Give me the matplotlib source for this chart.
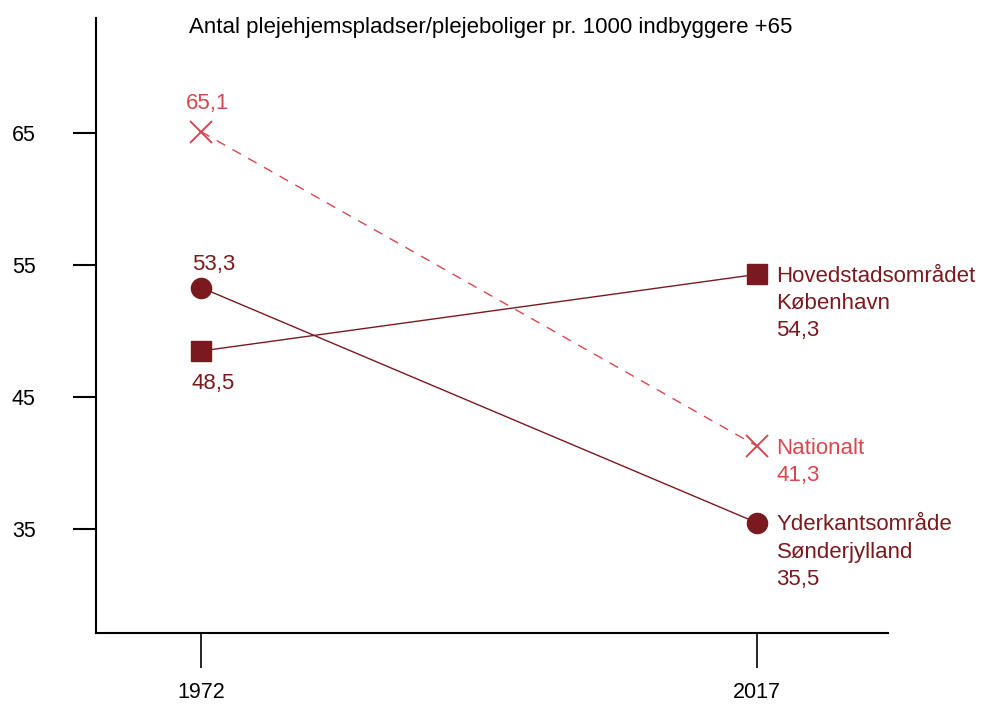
import matplotlib
matplotlib.use("Agg")
import matplotlib.pyplot as plt

plt.rcParams['font.family'] = ['Liberation Sans', 'DejaVu Sans']

years = [1972, 2017]
hoved = [48.5, 54.3]
yder = [53.3, 35.5]
national = [65.1, 41.3]
yticks = [35, 45, 55, 65]
title = "Antal plejehjemspladser/plejeboliger pr. 1000 indbyggere +65"

dark = "#7A1A1E"
light = "#D9474F"

fig = plt.figure(figsize=(9.81, 7.04), dpi=100)
ax = fig.add_axes([96/981, 1-633/704, (888-96)/981, (633-18)/704])

ax.plot(years, national, color=light, lw=1.0, ls=(0, (7, 6)), zorder=2)
ax.plot(years, national, ls='none', marker='x', ms=15.5, mew=1.4, color=light, zorder=3)
ax.plot(years, hoved, color=dark, lw=1.0, marker='s', ms=14, zorder=3)
ax.plot(years, yder, color=dark, lw=1.0, marker='o', ms=14.5, zorder=3)

ax.set_xlim(1963.5, 2027.6)
ax.set_ylim(27.16, 73.7)
ax.set_xticks(years)
ax.set_xticklabels([str(y) for y in years])
ax.set_yticks(yticks)
ax.set_yticklabels([str(v) for v in yticks])
for s in ['top', 'right']:
    ax.spines[s].set_visible(False)
for s in ['left', 'bottom']:
    ax.spines[s].set_linewidth(1.5)
ax.tick_params(axis='y', length=16.5, width=1.5, labelsize=15.5, pad=27)
ax.tick_params(axis='x', length=25, width=1.2, labelsize=15.5, pad=10)

fs = 16
def fmt(v):
    return f"{v:.1f}".replace('.', ',')

ax.annotate(fmt(national[0]), (years[0], national[0]), xytext=(5, 13), textcoords='offset points',
            ha='center', va='bottom', color=light, fontsize=fs)
ax.annotate(fmt(yder[0]), (years[0], yder[0]), xytext=(9, 9), textcoords='offset points',
            ha='center', va='bottom', color=dark, fontsize=fs)
ax.annotate(fmt(hoved[0]), (years[0], hoved[0]), xytext=(9, -16), textcoords='offset points',
            ha='center', va='top', color=dark, fontsize=fs)

kw = dict(textcoords='offset points', ha='left', va='top', fontsize=fs, linespacing=1.38)
ax.annotate("Hovedstadsområdet\nKøbenhavn\n" + fmt(hoved[1]), (years[1], hoved[1]), xytext=(14, 6),
            color=dark, **kw)
ax.annotate("Nationalt\n" + fmt(national[1]), (years[1], national[1]), xytext=(14, 6),
            color=light, **kw)
ax.annotate("Yderkantsområde\nSønderjylland\n" + fmt(yder[1]), (years[1], yder[1]), xytext=(14, 6),
            color=dark, **kw)

fig.text(491/981, 1-28/704, title, ha='center', va='center', fontsize=16)

fig.savefig("out.png", dpi=100)
